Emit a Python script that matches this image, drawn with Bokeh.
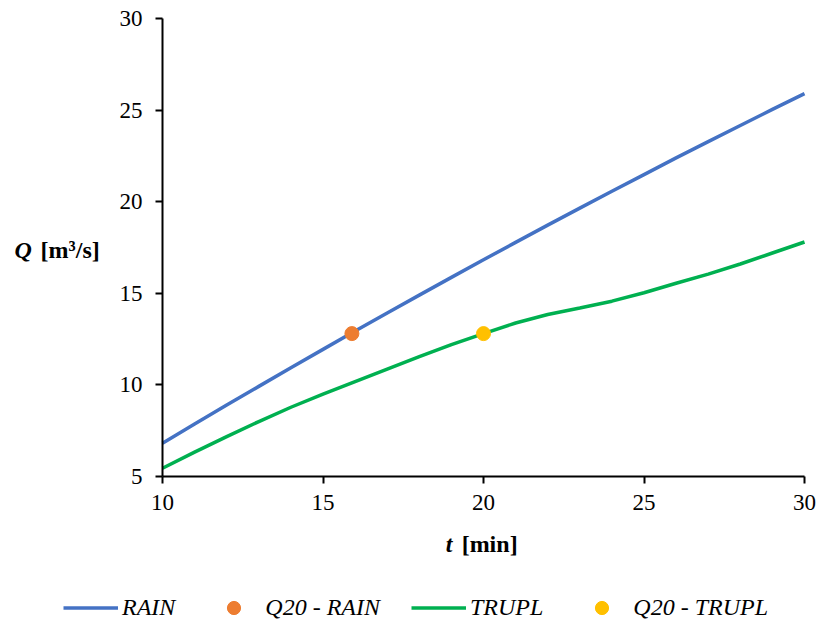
from bokeh.plotting import figure
from bokeh.models import Range1d, FixedTicker, Label, Legend, LegendItem
from bokeh.embed import file_html
from bokeh.resources import INLINE

# ---- data ----
t_min = [10, 11, 12, 13, 14, 15, 16, 17, 18, 19, 20, 21, 22, 23, 24, 25, 26, 27, 28, 29, 30]
q_rain = [6.82, 7.86, 8.90, 9.92, 10.94, 11.94, 12.94, 13.93, 14.90, 15.87, 16.83, 17.78,
          18.72, 19.65, 20.57, 21.48, 22.39, 23.28, 24.16, 25.04, 25.9]
q_trupl = [5.45, 6.33, 7.18, 8.0, 8.78, 9.5, 10.18, 10.86, 11.54, 12.2, 12.8, 13.38,
           13.84, 14.2, 14.57, 15.03, 15.55, 16.05, 16.6, 17.2, 17.8]
q20_rain_t = [15.9]
q20_rain_q = [12.8]
q20_trupl_t = [20.0]
q20_trupl_q = [12.8]
x_ticks = [10, 15, 20, 25, 30]
y_ticks = [5, 10, 15, 20, 25, 30]

FONT = "Liberation Serif"
BLUE, ORANGE, GREEN, YELLOW = "#4472C4", "#ED7D31", "#00B050", "#FFC000"

# frame spans the whole canvas; axes sit at fixed data locations
p = figure(width=820, height=628, output_backend="svg", toolbar_location=None,
           x_range=Range1d(4.953, 30.498), y_range=Range1d(-3.297, 30.983),
           min_border=0)
p.outline_line_color = None
p.grid.visible = False
p.background_fill_color = "white"
p.border_fill_color = "white"

p.xaxis.fixed_location = 5
p.yaxis.fixed_location = 10
p.xaxis.bounds = (10, 30)
p.yaxis.bounds = (5, 30)
for ax, ticks in ((p.xaxis, x_ticks), (p.yaxis, y_ticks)):
    ax.ticker = FixedTicker(ticks=ticks)
    ax.minor_tick_line_color = None
    ax.major_tick_in = 0
    ax.major_tick_out = 7
    ax.axis_line_width = 2
    ax.major_tick_line_width = 2
    ax.axis_line_color = "black"
    ax.major_tick_line_color = "black"
    ax.major_label_text_font = FONT
    ax.major_label_text_font_size = "23px"
    ax.major_label_text_color = "black"
p.xaxis.major_label_standoff = 11
p.yaxis.major_label_standoff = 13

r1 = p.line(t_min, q_rain, line_color=BLUE, line_width=3.5)
r3 = p.line(t_min, q_trupl, line_color=GREEN, line_width=3.5)
r2 = p.scatter(q20_rain_t, q20_rain_q, size=14, fill_color=ORANGE, line_color=ORANGE)
r4 = p.scatter(q20_trupl_t, q20_trupl_q, size=14, fill_color=YELLOW, line_color=YELLOW)

legend = Legend(items=[LegendItem(label="RAIN", renderers=[r1]),
                       LegendItem(label="Q20 - RAIN", renderers=[r2]),
                       LegendItem(label="TRUPL", renderers=[r3]),
                       LegendItem(label="Q20 - TRUPL", renderers=[r4])],
                orientation="horizontal", location=(63, 4),
                glyph_width=55, glyph_height=33, label_standoff=4, spacing=31,
                padding=0, margin=0, border_line_color=None, background_fill_alpha=0,
                label_text_font=FONT, label_text_font_style="italic",
                label_text_font_size="24px", label_text_color="black")
p.add_layout(legend)

# axis titles
lab_kw = dict(text_font=FONT, text_font_size="24px", text_color="black",
              text_baseline="middle", text_align="left")
p.add_layout(Label(x=5.39, y=17.34, text="Q", text_font_style="bold italic", **lab_kw))
p.add_layout(Label(x=5.39, y=17.34, x_offset=26, text="[m³/s]", text_font_style="bold", **lab_kw))
p.add_layout(Label(x=18.82, y=1.34, text="t", text_font_style="bold italic", **lab_kw))
p.add_layout(Label(x=18.82, y=1.34, x_offset=16, text="[min]", text_font_style="bold", **lab_kw))

open("out.html", "w").write(file_html(p, INLINE))
